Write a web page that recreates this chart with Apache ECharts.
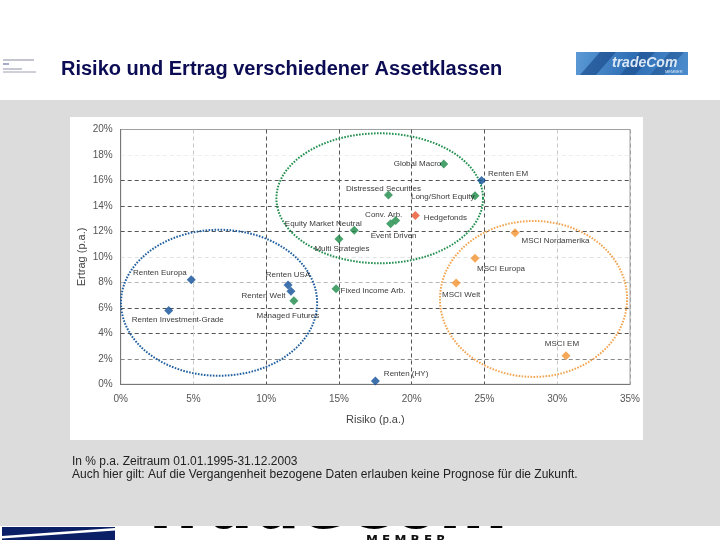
<!DOCTYPE html>
<html>
<head>
<meta charset="utf-8">
<script src="https://cdn.jsdelivr.net/npm/echarts@6/dist/echarts.min.js"></script>
<style>html,body{margin:0;padding:0;background:#fff}#c{width:720px;height:540px}</style>
</head>
<body>
<div id="c"></div>
<script>
// ---- data ----
const rentenNames  = ['Renten EM', 'Renten Europa', 'Renten Investment-Grade', 'Renten USA', 'Renten Welt', 'Renten (HY)'];
const rentenRisk   = [24.8, 4.85, 3.3, 11.5, 11.7, 17.5];
const rentenReturn = [16.0, 8.2, 5.8, 7.8, 7.3, 0.25];

const hfNames  = ['Global Macro', 'Distressed Securities', 'Long/Short Equity', 'Conv. Arb.', 'Event Driven', 'Equity Market Neutral', 'Multi Strategies', 'Managed Futures', 'Fixed Income Arb.'];
const hfRisk   = [22.2, 18.4, 24.35, 18.9, 18.55, 16.05, 15.0, 11.9, 14.8];
const hfReturn = [17.3, 14.85, 14.8, 12.85, 12.6, 12.1, 11.4, 6.55, 7.5];

const hedgeNames  = ['Hedgefonds'];
const hedgeRisk   = [20.25];
const hedgeReturn = [13.25];

const msciNames  = ['MSCI Nordamerika', 'MSCI Europa', 'MSCI Welt', 'MSCI EM'];
const msciRisk   = [27.1, 24.35, 23.05, 30.6];
const msciReturn = [11.9, 9.9, 7.95, 2.25];

// ellipses: [centre risk, centre return, radius risk, radius return]
const ellipseRenten = [6.76, 6.4, 6.74, 5.73];
const ellipseHF     = [17.8, 14.6, 7.1, 5.1];
const ellipseMSCI   = [28.37, 6.7, 6.43, 6.12];

const xTicks = [0, 5, 10, 15, 20, 25, 30, 35];
const yTicks = [0, 2, 4, 6, 8, 10, 12, 14, 16, 18, 20];

// ---- styles ----
const labelStyle = {
  'Renten EM': ['right', [-2, -7]],
  'Renten Europa': ['left', [4, -7]],
  'Renten Investment-Grade': ['bottom', [9, -3]],
  'Renten USA': ['top', [0, 2]],
  'Renten Welt': ['left', [3, 4]],
  'Renten (HY)': ['right', [0, -7]],
  'Global Macro': ['left', [6, 0]],
  'Distressed Securities': ['top', [-5, 6]],
  'Long/Short Equity': ['left', [8, 1]],
  'Conv. Arb.': ['top', [-12, 7]],
  'Event Driven': ['bottom', [3, 0]],
  'Equity Market Neutral': ['top', [-31, 6]],
  'Multi Strategies': ['bottom', [3, -3]],
  'Managed Futures': ['bottom', [-6, 2]],
  'Fixed Income Arb.': ['right', [-4, 2]],
  'Hedgefonds': ['right', [0, 2]],
  'MSCI Nordamerika': ['right', [-2, 8]],
  'MSCI Europa': ['bottom', [26, -2]],
  'MSCI Welt': ['bottom', [5, -1]],
  'MSCI EM': ['top', [-4, 1]]
};
const ellipseColors = ['#1f5f9f', '#23904f', '#f2a552'];

function pts(names, xs, ys) {
  return names.map((n, i) => {
    const s = labelStyle[n] || ['right', [0, 0]];
    return { name: n, value: [xs[i], ys[i]], label: { position: s[0], offset: s[1] } };
  });
}
function scatter(names, xs, ys, color) {
  return {
    type: 'scatter', z: 12, symbol: 'diamond', symbolSize: 9,
    itemStyle: { color: color },
    label: { show: true, formatter: '{b}', fontSize: 8, color: '#000', fontFamily: 'Liberation Sans, Arial, sans-serif', distance: 4 },
    data: pts(names, xs, ys)
  };
}

const chart = echarts.init(document.getElementById('c'), null, { renderer: 'canvas' });
const option = {
  backgroundColor: '#ffffff',
  animation: false,
  grid: { left: 120.7, right: 90, top: 129.5, bottom: 155.7, show: true, borderColor: '#a0a0a0', borderWidth: 1, z: 10 },
  xAxis: {
    type: 'value', min: xTicks[0], max: xTicks[xTicks.length - 1], interval: 5, z: 10,
    name: 'Risiko (p.a.)', nameLocation: 'middle', nameGap: 30, nameMoveOverlap: false,
    nameTextStyle: { fontSize: 11, color: '#444', fontFamily: 'Liberation Sans, Arial, sans-serif' },
    axisLine: { show: true, lineStyle: { color: '#777', width: 1 } },
    axisTick: { show: false },
    axisLabel: { formatter: '{value}%', fontSize: 10, color: '#555', margin: 10, fontFamily: 'Liberation Sans, Arial, sans-serif' },
    splitLine: { show: true, lineStyle: { type: [4, 3], width: 1, color: ['#777', '#c8c8c8', '#555', '#555', '#555', '#555', '#c8c8c8', '#a0a0a0'] } }
  },
  yAxis: {
    type: 'value', min: yTicks[0], max: yTicks[yTicks.length - 1], interval: 2, z: 10,
    name: 'Ertrag (p.a.)', nameLocation: 'middle', nameGap: 33, nameRotate: 90, nameMoveOverlap: false,
    nameTextStyle: { fontSize: 11, color: '#444', fontFamily: 'Liberation Sans, Arial, sans-serif' },
    axisLine: { show: true, lineStyle: { color: '#777', width: 1 } },
    axisTick: { show: false },
    axisLabel: { formatter: '{value}%', fontSize: 10, color: '#555', margin: 8, fontFamily: 'Liberation Sans, Arial, sans-serif' },
    splitLine: { show: true, lineStyle: { type: [4, 3], width: 1, color: ['#777', '#888', '#555', '#555', '#b8b8b8', '#e2e2e2', '#555', '#555', '#555', '#eeeeee', '#a0a0a0'] } }
  },
  graphic: [
    // bottom logo text (partly hidden by the grey band)
    { type: 'text', z: 0, left: 138, top: 478, style: { text: 'TradeCom', font: 'bold 66px "DejaVu Sans", Arial, sans-serif', fill: '#000' } },
    { type: 'text', z: 0, left: 366, top: 535, style: { text: 'M E M B E R', font: 'bold 12px "DejaVu Sans", Arial, sans-serif', fill: '#111' } },
    { type: 'rect', z: 0, shape: { x: 2, y: 527, width: 113, height: 13 }, style: { fill: '#0b1f66' } },
    { type: 'polygon', z: 0, shape: { points: [[2, 536], [115, 528], [115, 530.5], [2, 538.5]] }, style: { fill: '#ffffff' } },
    // grey band
    { type: 'rect', z: 1, shape: { x: 0, y: 100, width: 720, height: 426 }, style: { fill: '#dcdcdc' } },
    // chart panel
    { type: 'rect', z: 2, shape: { x: 70, y: 117, width: 573, height: 323 }, style: { fill: '#ffffff' } },
    // header title
    { type: 'text', z: 3, left: 61, top: 59, style: { text: 'Risiko und Ertrag verschiedener Assetklassen', font: 'bold 20px "Liberation Sans", Arial, sans-serif', fill: '#0c0c55' } },
    // top-right logo
    { type: 'rect', z: 3, shape: { x: 576, y: 52, width: 112, height: 23 },
      style: { fill: new echarts.graphic.LinearGradient(0, 0, 1, 1, [{ offset: 0, color: '#5b9ad6' }, { offset: 0.5, color: '#2d6db4' }, { offset: 1, color: '#4d8ccc' }]) } },
    { type: 'polygon', z: 3, shape: { points: [[600, 52], [616, 52], [596, 75], [580, 75]] }, style: { fill: '#1d4f8e', opacity: 0.7 } },
    { type: 'polygon', z: 3, shape: { points: [[640, 52], [655, 52], [635, 75], [620, 75]] }, style: { fill: '#1d4f8e', opacity: 0.6 } },
    { type: 'polygon', z: 3, shape: { points: [[670, 52], [684, 52], [664, 75], [650, 75]] }, style: { fill: '#1d4f8e', opacity: 0.5 } },
    { type: 'text', z: 4, left: 612, top: 56, style: { text: 'tradeCom', font: 'bold italic 14px "Liberation Sans", Arial, sans-serif', fill: '#dbe9f7' } },
    { type: 'text', z: 4, left: 665, top: 70, style: { text: 'MEMBER', font: '4px "Liberation Sans", Arial, sans-serif', fill: '#dbe9f7' } },
    // top-left tiny logo
    { type: 'line', z: 3, shape: { x1: 3, y1: 60, x2: 34, y2: 60 }, style: { stroke: '#8a8aa0', lineWidth: 1 } },
    { type: 'line', z: 3, shape: { x1: 3, y1: 64, x2: 9, y2: 64 }, style: { stroke: '#4a5a90', lineWidth: 1 } },
    { type: 'line', z: 3, shape: { x1: 3, y1: 69, x2: 22, y2: 69 }, style: { stroke: '#9090a8', lineWidth: 1 } },
    { type: 'line', z: 3, shape: { x1: 3, y1: 72, x2: 36, y2: 72 }, style: { stroke: '#a0a0b4', lineWidth: 1 } },
    // footnote
    { type: 'text', z: 3, left: 72, top: 456, style: { text: 'In % p.a. Zeitraum 01.01.1995-31.12.2003', font: '12px "Liberation Sans", Arial, sans-serif', fill: '#222' } },
    { type: 'text', z: 3, left: 72, top: 469, style: { text: 'Auch hier gilt: Auf die Vergangenheit bezogene Daten erlauben keine Prognose für die Zukunft.', font: '12px "Liberation Sans", Arial, sans-serif', fill: '#222' } }
  ],
  series: [
    {
      type: 'custom', z: 11, clip: false, silent: true,
      data: [ellipseRenten, ellipseHF, ellipseMSCI],
      renderItem: function (params, api) {
        const cx = api.value(0), cy = api.value(1), rx = api.value(2), ry = api.value(3);
        const p = [];
        for (let i = 0; i <= 160; i++) {
          const t = i / 160 * 2 * Math.PI;
          p.push(api.coord([cx + rx * Math.cos(t), cy + ry * Math.sin(t)]));
        }
        return { type: 'polygon', shape: { points: p }, style: { fill: 'none', stroke: ellipseColors[params.dataIndex], lineWidth: 2, lineDash: [1.6, 1.4] } };
      }
    },
    scatter(rentenNames, rentenRisk, rentenReturn, '#0f4f99'),
    scatter(hfNames, hfRisk, hfReturn, '#1b8a47'),
    scatter(hedgeNames, hedgeRisk, hedgeReturn, '#e8532e'),
    scatter(msciNames, msciRisk, msciReturn, '#f3922e')
  ]
};
chart.setOption(option);
</script>
</body>
</html>
